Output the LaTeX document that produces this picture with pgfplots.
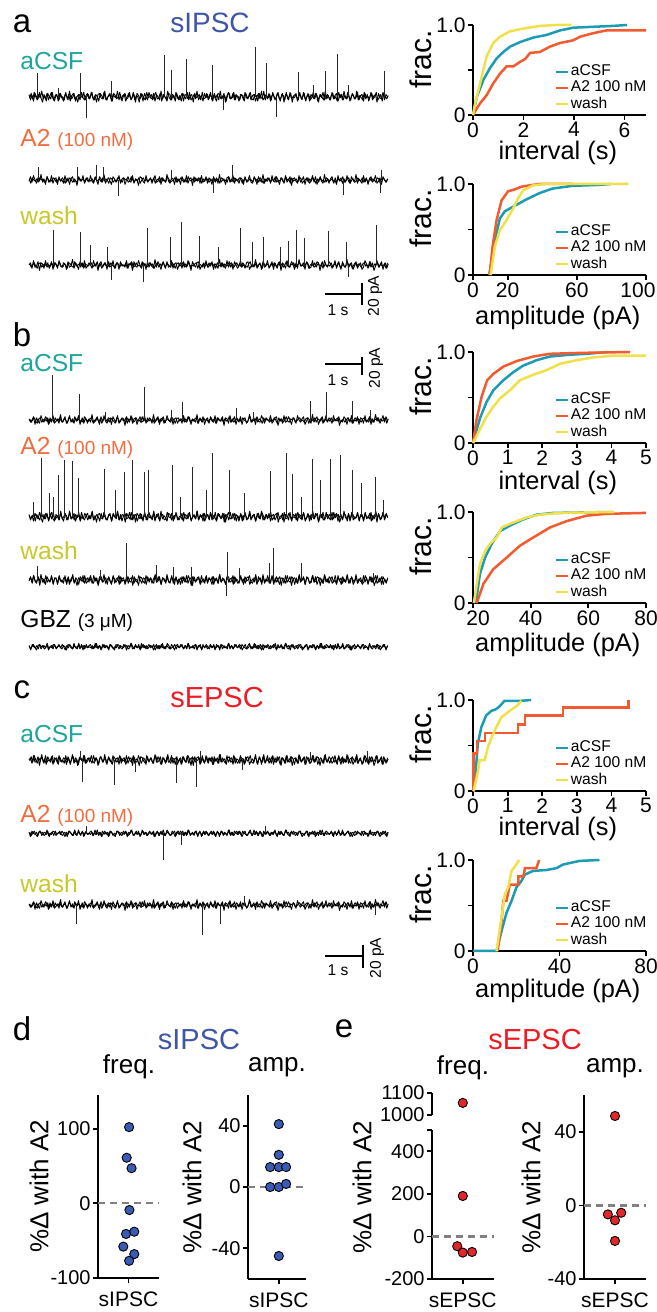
\documentclass[border=0pt]{standalone}
\usepackage{fontspec}
\setmainfont{Liberation Sans}
\usepackage{pgfplots}
\usepackage{pgfplotstable}
\pgfplotsset{compat=1.18}

\definecolor{cTeal}{RGB}{30,165,155}
\definecolor{cOrange}{RGB}{243,108,61}
\definecolor{cOlive}{RGB}{200,200,42}
\definecolor{cBlue}{RGB}{63,86,168}
\definecolor{cRed}{RGB}{236,28,36}
\definecolor{lAcsf}{RGB}{27,155,180}
\definecolor{lA2}{RGB}{242,90,47}
\definecolor{lWash}{RGB}{242,224,74}
\definecolor{dotBlue}{RGB}{58,91,180}
\definecolor{dotRed}{RGB}{227,38,42}

\newcommand{\fs}[1]{\fontsize{#1}{#1}\selectfont}

% recorded baseline noise, pA (one sample per 1.5 px)
\pgfplotstableread[row sep=\\]{v\\
2\\ -3\\ 1\\ -4\\ 3\\ 0\\ -2\\ 4\\ -1\\ -5\\ 2\\ -2\\ 3\\ -3\\ 1\\ 4\\ -2\\ -4\\ 2\\ 0\\
-3\\ 3\\ -1\\ -4\\ 2\\ 1\\ -3\\ 5\\ -2\\ -1\\ 3\\ -4\\ 0\\ 2\\ -3\\ 4\\ -1\\ -3\\ 1\\ 3\\
-2\\ 0\\ 4\\ -3\\ 1\\ -5\\ 2\\ 3\\ -1\\ -2\\ 4\\ -2\\ -3\\ 1\\ 3\\ -4\\ 2\\ 0\\ -1\\ 5\\
-3\\ 2\\ -4\\ 1\\ 3\\ -2\\ -1\\ 4\\ -3\\ 0\\ 2\\ -5\\ 3\\ 1\\ -2\\ 2\\ -4\\ 3\\ 0\\ -3\\
4\\ -1\\ -2\\ 3\\ -4\\ 2\\ 0\\ -3\\ 5\\ -2\\ 1\\ -1\\ -4\\ 3\\ 2\\ -3\\ 1\\ -2\\ 4\\ -1\\
-3\\ 0\\ 3\\ -4\\ 2\\ 1\\ -2\\ 4\\ -3\\ -1\\ 2\\ -2\\ 5\\ -3\\ 0\\ 1\\ -4\\ 3\\ -1\\ 2\\
-2\\ 4\\ -3\\ 1\\ -1\\ -4\\ 3\\ 2\\ -2\\ 0\\ 3\\ -5\\ 1\\ 4\\ -2\\ -1\\ 3\\ -3\\ 2\\ 0\\
-4\\ 2\\ 1\\ -3\\ 4\\ -1\\ -2\\ 3\\ -3\\ 1\\ 2\\ -4\\ 0\\ 3\\ -2\\ 5\\ -3\\ -1\\ 2\\ -2\\
3\\ -4\\ 1\\ 2\\ -3\\ 0\\ 4\\ -2\\ -1\\ 3\\ -5\\ 2\\ 1\\ -3\\ 4\\ -2\\ 0\\ -1\\ 3\\ -4\\
2\\ 1\\ -3\\ 4\\ -2\\ -1\\ 3\\ -4\\ 2\\ 0\\ -2\\ 3\\ 1\\ -5\\ 2\\ -1\\ 4\\ -3\\ 0\\ 2\\
-1\\ -3\\ 4\\ -2\\ 1\\ 3\\ -4\\ 0\\ 2\\ -3\\ 5\\ -1\\ -2\\ 3\\ -4\\ 1\\ 2\\ -2\\ -1\\ 4\\
-3\\ 1\\ 2\\ -4\\ 3\\ -1\\ 0\\ -2\\ 4\\ -3\\ 1\\ 2\\ -5\\ 3\\ -1\\ -2\\ 4\\ -3\\ 2\\ 0\\
}\noiseA
\pgfplotstableread[row sep=\\]{v\\
1\\ -2\\ 0\\ 2\\ -1\\ -3\\ 1\\ 2\\ -2\\ 0\\ 1\\ -1\\ 2\\ -3\\ 0\\ 1\\ -2\\ 2\\ -1\\ 0\\
2\\ -1\\ -2\\ 1\\ 0\\ -3\\ 2\\ 1\\ -1\\ -2\\ 3\\ -1\\ 0\\ 1\\ -2\\ 2\\ -3\\ 1\\ 0\\ -1\\
1\\ 2\\ -2\\ 0\\ -1\\ 3\\ -2\\ 1\\ -3\\ 0\\ 2\\ -1\\ 1\\ -2\\ 2\\ 0\\ -1\\ -3\\ 2\\ 1\\
-2\\ 1\\ 0\\ -1\\ 2\\ -3\\ 1\\ 0\\ 3\\ -2\\ -1\\ 2\\ -1\\ 0\\ -2\\ 3\\ -1\\ 1\\ -2\\ 0\\
2\\ -1\\ 1\\ -3\\ 0\\ 2\\ -2\\ 1\\ -1\\ 3\\ -2\\ 0\\ 1\\ -1\\ -2\\ 2\\ 0\\ -3\\ 1\\ 2\\
-1\\ 0\\ 2\\ -2\\ 1\\ -1\\ 3\\ -2\\ 0\\ -1\\ 1\\ 2\\ -3\\ 1\\ 0\\ -2\\ 2\\ -1\\ 1\\ -2\\
0\\ 2\\ -1\\ 1\\ -3\\ 2\\ 0\\ -1\\ 2\\ -2\\ 1\\ -1\\ 0\\ 3\\ -2\\ 1\\ -2\\ 0\\ 2\\ -1\\
1\\ -2\\ 2\\ 0\\ -1\\ -2\\ 1\\ 3\\ -2\\ 0\\ -1\\ 2\\ -2\\ 1\\ 0\\ -3\\ 2\\ -1\\ 1\\ 0\\
-2\\ 1\\ -1\\ 2\\ 0\\ -3\\ 2\\ -1\\ 1\\ -2\\ 0\\ 3\\ -1\\ -2\\ 1\\ 0\\ 2\\ -2\\ -1\\ 1\\
2\\ -1\\ 0\\ -2\\ 1\\ 2\\ -3\\ 0\\ 1\\ -1\\ 2\\ -2\\ 1\\ 0\\ -1\\ 3\\ -2\\ 1\\ -1\\ 0\\
-1\\ 2\\ -2\\ 1\\ 0\\ -1\\ 3\\ -2\\ -1\\ 1\\ -2\\ 0\\ 2\\ -1\\ 1\\ -3\\ 0\\ 2\\ -1\\ 1\\
0\\ -2\\ 1\\ 2\\ -1\\ 0\\ -2\\ 3\\ -1\\ -2\\ 1\\ 0\\ 2\\ -2\\ 1\\ -1\\ 0\\ 2\\ -3\\ 1\\
}\noiseB
\pgfplotstableread[row sep=\\]{v\\
-1\\ 3\\ -2\\ 4\\ 0\\ -3\\ 2\\ -1\\ 5\\ -2\\ 1\\ -4\\ 3\\ 0\\ -2\\ 4\\ -3\\ 1\\ 2\\ -4\\
3\\ -1\\ 0\\ -3\\ 4\\ -2\\ 2\\ -4\\ 1\\ 3\\ -2\\ 0\\ -5\\ 2\\ 1\\ -1\\ 4\\ -3\\ 0\\ 2\\
-2\\ 4\\ -1\\ -3\\ 2\\ 0\\ -4\\ 3\\ 1\\ -2\\ 5\\ -3\\ 0\\ 2\\ -1\\ -4\\ 3\\ 1\\ -2\\ 0\\
4\\ -3\\ 1\\ 2\\ -4\\ 0\\ 3\\ -1\\ -2\\ 4\\ -3\\ 1\\ 0\\ -5\\ 3\\ 2\\ -1\\ -3\\ 4\\ -1\\
0\\ 2\\ -3\\ 1\\ 4\\ -2\\ -1\\ 3\\ -4\\ 2\\ 0\\ -2\\ 5\\ -1\\ -3\\ 2\\ 1\\ -4\\ 3\\ -2\\
1\\ -4\\ 3\\ 0\\ -2\\ 4\\ -3\\ 1\\ 2\\ -5\\ 3\\ -1\\ 0\\ 2\\ -3\\ 4\\ -2\\ -1\\ 3\\ -3\\
2\\ 0\\ -4\\ 3\\ -1\\ 2\\ -3\\ 5\\ -2\\ 0\\ 1\\ -4\\ 2\\ 3\\ -2\\ -1\\ 4\\ -3\\ 1\\ 0\\
-3\\ 2\\ 1\\ -4\\ 3\\ -1\\ 0\\ 4\\ -2\\ -3\\ 2\\ 1\\ -4\\ 3\\ 0\\ -2\\ 5\\ -3\\ 1\\ -1\\
2\\ -3\\ 4\\ -1\\ -2\\ 3\\ 0\\ -4\\ 2\\ 1\\ -3\\ 4\\ -2\\ 0\\ 3\\ -5\\ 1\\ 2\\ -1\\ -3\\
4\\ -2\\ 0\\ 3\\ -4\\ 1\\ 2\\ -3\\ -1\\ 4\\ -2\\ 3\\ -4\\ 0\\ 2\\ -1\\ -3\\ 5\\ -2\\ 1\\
-3\\ 1\\ 3\\ -2\\ 0\\ -4\\ 4\\ -1\\ 2\\ -3\\ 1\\ -2\\ 4\\ -1\\ -3\\ 3\\ 0\\ -2\\ 5\\ -3\\
1\\ -1\\ -3\\ 4\\ -2\\ 2\\ -4\\ 1\\ 3\\ -2\\ 0\\ 4\\ -3\\ -1\\ 2\\ -4\\ 3\\ 0\\ -2\\ 1\\
}\noiseC

\pgfplotsset{
  trace/.style={hide axis, x=0.5pt, y=0.55pt, xmin=29, xmax=388, ymin=-30, ymax=70,
    clip=false, anchor=south west},
  tr/.style={black, line width=0.45pt, line join=round, mark=none},
  sp/.style={black!85, line width=0.45pt, ycomb, mark=none},
  cdf/.style={scale only axis, width=86.5pt, height=45.5pt, anchor=south west,
    axis x line*=bottom, axis y line*=left, axis line style={line width=0.9pt,-},
    tick align=outside, major tick length=2.5pt, tick style={line width=0.9pt,black},
    ymin=0, ymax=1, ytick={0,0.5,1}, yticklabels={0,,1.0},
    ticklabel style={font=\fs{10.5}, inner sep=1pt},
    ylabel={frac.},
    ylabel style={font=\fs{15}, at={(axis description cs:-0.3,0.62)}, anchor=center},
    xlabel style={font=\fs{12.7}, at={(axis description cs:0.49,0)}, anchor=base},
    legend style={at={(0.47,0.02)}, anchor=south west, draw=none, fill=none,
      font=\fs{7.8}, inner sep=0pt, row sep=-0.6pt, nodes={inner sep=0.8pt}},
    legend cell align=left,
    legend image code/.code={\draw[##1, line width=1.3pt] (0pt,0pt) -- (6pt,0pt);},
    every axis plot/.append style={line width=1.25pt, mark=none},
    clip=false},
  sc/.style={scale only axis, anchor=south west,
    axis x line*=bottom, axis y line*=left, axis line style={line width=0.9pt,-},
    tick align=outside, major tick length=2.5pt, tick style={line width=0.9pt,black},
    xtick={1}, clip=false,
    ticklabel style={font=\fs{10}, inner sep=1pt},
    xticklabel style={font=\fs{10.5}, yshift=-3pt},
    ylabel={\%Δ with A2}, ylabel style={font=\fs{13}, anchor=center}},
  zl/.style={gray, line width=1.1pt, dash pattern=on 3.5pt off 2.5pt, mark=none},
  dotB/.style={only marks, mark=*, mark size=2.3pt,
    mark options={fill=dotBlue, draw=black, line width=0.45pt}},
  dotR/.style={only marks, mark=*, mark size=2.3pt,
    mark options={fill=dotRed, draw=black, line width=0.45pt}},
}

\begin{document}
\begin{tikzpicture}
\path[use as bounding box] (0,0) rectangle (328.5pt,656pt);

% ---------- panel letters and titles ----------
\node[font=\fs{16.5}] at (11pt,644.25pt) {a};
\node[font=\fs{16.5}] at (11pt,488.5pt) {b};
\node[font=\fs{16.5}] at (11pt,311pt) {c};
\node[font=\fs{16.5}] at (11pt,141.5pt) {d};
\node[font=\fs{16.5}] at (172pt,141.5pt) {e};
\node[font=\fs{14}, text=cBlue] at (105pt,644.5pt) {sIPSC};
\node[font=\fs{14.5}, text=cRed] at (108.5pt,307pt) {sEPSC};
\node[font=\fs{14.5}, text=cBlue] at (99.5pt,136pt) {sIPSC};
\node[font=\fs{14.5}, text=cRed] at (267.5pt,136pt) {sEPSC};

% ---------- trace labels ----------
\begin{scope}[every node/.style={anchor=base west, inner sep=0pt, font=\fs{12.3}}]
\node[text=cTeal] at (10pt,621pt) {aCSF};
\node[text=cOrange] at (10pt,582.5pt) {A2 {\fs{9.5}(100 nM)}};
\node[text=cOlive] at (10pt,543.5pt) {wash};
\node[text=cTeal] at (10pt,470pt) {aCSF};
\node[text=cOrange] at (10pt,428.5pt) {A2 {\fs{9.5}(100 nM)}};
\node[text=cOlive] at (10pt,376pt) {wash};
\node at (10pt,342pt) {GBZ {\fs{9.5}(3 μM)}};
\node[text=cTeal] at (10pt,284.5pt) {aCSF};
\node[text=cOrange] at (10pt,244.5pt) {A2 {\fs{9.5}(100 nM)}};
\node[text=cOlive] at (10pt,209.5pt) {wash};
\end{scope}

% ---------- panel a traces ----------
\begin{axis}[trace, at={(14.5pt,591.15pt)}]
\addplot[tr] table[x expr=29+1.5*\coordindex, y index=0] {\noiseA};
\addplot[tr] table[x expr=29.75+1.5*\coordindex, y index=0] {\noiseC};
\addplot[sp] coordinates {(37.7,21.8)(58.3,7.6)(80,21.8)(111,14.2)(164.3,37.9)(171.7,24.2)
  (186,33.9)(212.7,28.8)(255,45.5)(266.7,30.9)(298.3,22.7)(313,10.6)(325,23.6)(337.7,38.5)
  (348,10.6)(384,23.3)(86,-19.7)(276.7,-18.2)(223.3,-12.1)};
\end{axis}
\begin{axis}[trace, at={(14.5pt,549.5pt)}]
\addplot[tr] table[x expr=29+1.5*\coordindex, y index=0] {\noiseC};
\addplot[tr] table[x expr=387.75-1.5*\coordindex, y index=0] {\noiseB};
\addplot[sp] coordinates {(38,12)(77,12)(96.7,13.6)(103,12)(171.7,9)(232,13.6)(381.7,9)
  (118,-15)(213,-11.5)(343,-13.6)(380,-11.5)};
\end{axis}
\begin{axis}[trace, at={(14.5pt,507pt)}]
\addplot[tr] table[x expr=387.5-1.5*\coordindex, y index=0] {\noiseA};
\addplot[tr] table[x expr=29.75+1.5*\coordindex, y index=0] {\noiseB};
\addplot[sp] coordinates {(53.3,31.8)(80.7,29.7)(90,18.2)(107.3,16.7)(147.7,33.3)(170,25.2)
  (181,39.4)(199.3,26.1)(218.3,16.7)(240,33.3)(252.3,21.2)(263.3,25.2)(280,16.7)(288.3,21.8)
  (296,31.8)(304,24.2)(328.3,30.9)(346.7,21.2)(376.7,36.4)(111.7,-13.6)(143.3,-15.2)(348.3,-10.6)};
\end{axis}

% ---------- panel b traces ----------
\begin{axis}[trace, at={(14.5pt,429.5pt)}]
\addplot[tr] table[x expr=387.5-1.5*\coordindex, y index=0] {\noiseC};
\addplot[tr] table[x expr=29.75+1.5*\coordindex, y index=0] {\noiseB};
\addplot[sp] coordinates {(52.7,40.9)(79.3,23.6)(144,29.7)(182.7,16.7)(236.7,10.6)(310,17.6)
  (326.7,25.5)(352.3,17.6)(370,9.1)(105,7.6)(171.7,9.1)(253.3,7.6)};
\end{axis}
\begin{axis}[trace, at={(14.5pt,381.15pt)}]
\addplot[tr] table[x expr=29+1.5*\coordindex, y index=0] {\noiseA};
\addplot[tr] table[x expr=387.75-1.5*\coordindex, y index=0] {\noiseC};
\addplot[sp] coordinates {(33.3,13.6)(41.7,53)(49.3,21.2)(53.3,18.2)(58.3,37.9)(64,51.5)
  (72.7,50.9)(78.7,34.8)(104,43.3)(115,24.2)(124,40.3)(132.7,51.5)(144.3,40.3)(148.3,42.4)
  (172.7,47)(180,18.2)(192.3,45.5)(206,24.2)(212.3,58.2)(229,42.4)(244,21.2)(270.7,41.2)
  (286,58.2)(292.3,38.8)(301.7,18.2)(312.3,52.1)(320.7,33.3)(330.7,52.7)(340.7,55.8)
  (352.7,42.4)(361.7,30.3)(375.7,36.4)(383.3,15.2)};
\end{axis}
\begin{axis}[trace, at={(14.5pt,349.5pt)}]
\addplot[tr] table[x expr=29+1.5*\coordindex, y index=0] {\noiseC};
\addplot[tr] table[x expr=387.75-1.5*\coordindex, y index=0] {\noiseA};
\addplot[sp] coordinates {(37.3,12.7)(100,9.1)(126.7,33.3)(156.7,13.6)(173.3,12.1)(191.7,12.1)
  (227.7,25.8)(239.3,10.6)(269.3,15.2)(273.3,28.8)(301,15.2)(373.3,6)(226.7,-15)};
\end{axis}
\begin{axis}[trace, at={(14.5pt,316.15pt)}]
\addplot[tr] table[x expr=29+1.5*\coordindex, y index=0] {\noiseB};
\addplot[tr] table[x expr=387.75-1.5*\coordindex, y index=0] {\noiseB};
\end{axis}

% ---------- panel c traces ----------
\begin{axis}[trace, at={(14.5pt,259.5pt)}]
\addplot[tr] table[x expr=387.5-1.5*\coordindex, y index=0] {\noiseA};
\addplot[tr] table[x expr=29.75+1.5*\coordindex, y index=0] {\noiseC};
\addplot[sp] coordinates {(82.7,-19.7)(114.3,-22.7)(135,-10.6)(176,-21.2)(196.7,-24.2)
  (242.7,-9)(80,8)(200,8)(310,7)(367,8)};
\end{axis}
\begin{axis}[trace, at={(14.5pt,222.85pt)}]
\addplot[tr] table[x expr=387.5-1.5*\coordindex, y index=0] {\noiseB};
\addplot[tr] table[x expr=29.75+1.5*\coordindex, y index=0] {\noiseB};
\addplot[sp] coordinates {(163.3,-24.2)(181,-10.6)(86,7)(265,7)};
\end{axis}
\begin{axis}[trace, at={(14.5pt,187pt)}]
\addplot[tr] table[x expr=387.5-1.5*\coordindex, y index=0] {\noiseC};
\addplot[tr] table[x expr=29.75+1.5*\coordindex, y index=0] {\noiseB};
\addplot[sp] coordinates {(76,-17.3)(202.7,-27.3)(220,-17.3)(375,-9)(244,8)};
\end{axis}

% ---------- scale bars ----------
\begin{scope}[line width=0.7pt]
\draw (162.5pt,509pt) -- (181pt,509pt);
\draw (181pt,514.5pt) -- (181pt,503.5pt);
\node[font=\fs{7.8}] at (169pt,501pt) {1 s};
\node[font=\fs{7.8}, rotate=90] at (187.5pt,508pt) {20 pA};
\draw (162.5pt,474pt) -- (181pt,474pt);
\draw (181pt,477.7pt) -- (181pt,468.5pt);
\node[font=\fs{7.8}] at (169pt,466pt) {1 s};
\node[font=\fs{7.8}, rotate=90] at (188pt,472pt) {20 pA};
\draw (162.5pt,178pt) -- (181.5pt,178pt);
\draw (181.5pt,183.5pt) -- (181.5pt,172pt);
\node[font=\fs{7.8}] at (169pt,171pt) {1 s};
\node[font=\fs{7.8}, rotate=90] at (188.5pt,177pt) {20 pA};
\end{scope}

% ---------- cumulative plots ----------
\begin{axis}[cdf, at={(236.5pt,598.5pt)}, height=45pt, xmin=0, xmax=6.85,
  xtick={0,2,4,6}, xticklabels={0,2,4,6}, xlabel={interval (s)}, xlabel style={yshift=-22.3pt}]
\addplot[lAcsf] coordinates {(0,0)(0.15,0.2)(0.41,0.39)(0.67,0.52)(0.94,0.63)(1.2,0.7)(1.47,0.76)
  (1.86,0.81)(2.39,0.86)(2.92,0.89)(3.45,0.94)(3.97,0.97)(4.77,0.98)(5.56,0.99)(6.1,1.0)};
\addlegendentry{aCSF}
\addplot[lA2] coordinates {(0,0)(0.1,0.05)(0.28,0.13)(0.54,0.22)(0.8,0.35)(1.07,0.46)(1.33,0.54)
  (1.6,0.54)(1.86,0.59)(2.06,0.62)(2.26,0.69)(2.65,0.7)(3.05,0.76)(3.45,0.8)(3.97,0.83)
  (4.24,0.87)(4.77,0.91)(5.3,0.94)(6.85,0.94)};
\addlegendentry{A2 100 nM}
\addplot[lWash] coordinates {(0,0)(0.1,0.15)(0.28,0.35)(0.54,0.65)(0.8,0.8)(1.07,0.87)(1.47,0.93)
  (2.0,0.96)(2.65,0.99)(3.3,1.0)(3.9,1.0)};
\addlegendentry{wash}
\end{axis}

\begin{axis}[cdf, at={(236.5pt,518.5pt)}, xmin=0, xmax=100,
  xtick={0,20,60,100}, xticklabels={0,20,60,\hspace*{-8pt}100}, xlabel={amplitude (pA)},
  xlabel style={yshift=-25pt}]
\addplot[lAcsf] coordinates {(9.4,0)(11.7,0.24)(13.6,0.46)(15.5,0.62)(18.4,0.7)(23.2,0.75)
  (30.8,0.83)(38.5,0.9)(46,0.95)(57.7,0.98)(73,0.99)(79.7,1.0)};
\addlegendentry{aCSF}
\addplot[lA2] coordinates {(9.6,0)(11.3,0.31)(13.6,0.6)(16.5,0.82)(20.3,0.92)(24,0.94)(28,0.97)
  (32.8,0.985)(38.5,1.0)(58,1.0)};
\addlegendentry{A2 100 nM}
\addplot[lWash] coordinates {(10.2,0)(12.6,0.31)(15.5,0.49)(19.3,0.6)(23.2,0.73)(26,0.84)
  (28.9,0.93)(34.7,0.985)(42,1.0)(90,1.0)};
\addlegendentry{wash}
\end{axis}

\begin{axis}[cdf, at={(236.5pt,434.5pt)}, xmin=0, xmax=5,
  xtick={0,1,2,3,4,5}, xticklabels={0,1,2,3,4,5}, xlabel={interval (s)}, xlabel style={yshift=-23.5pt}]
\addplot[lAcsf] coordinates {(0,0)(0.2,0.27)(0.39,0.45)(0.59,0.58)(0.88,0.69)(1.17,0.78)
  (1.45,0.85)(1.84,0.91)(2.22,0.95)(2.8,0.97)(3.29,0.98)(3.91,1.0)};
\addlegendentry{aCSF}
\addplot[lA2] coordinates {(0,0)(0.1,0.25)(0.25,0.51)(0.41,0.69)(0.59,0.76)(0.88,0.84)(1.26,0.9)
  (1.74,0.95)(2.22,0.98)(3.09,0.99)(4.54,1.0)};
\addlegendentry{A2 100 nM}
\addplot[lWash] coordinates {(0,0)(0.2,0.15)(0.39,0.29)(0.59,0.4)(0.78,0.49)(1.07,0.58)
  (1.36,0.69)(1.74,0.75)(2.13,0.8)(2.51,0.87)(3.0,0.91)(3.48,0.94)(4.06,0.96)(5.0,0.96)};
\addlegendentry{wash}
\end{axis}

\begin{axis}[cdf, at={(236.5pt,354.5pt)}, xmin=20, xmax=80,
  xtick={20,40,60,80}, xticklabels={\hspace*{5pt}20,40,60,80}, xlabel={amplitude (pA)},
  xlabel style={yshift=-24.3pt}]
\addplot[lAcsf] coordinates {(21,0)(22.4,0.32)(24.2,0.5)(26.5,0.65)(29.4,0.79)(32.8,0.85)
  (37.5,0.92)(42,0.97)(47.9,0.99)(68,1.0)};
\addlegendentry{aCSF}
\addplot[lA2] coordinates {(21.3,0)(23.6,0.21)(27,0.37)(31.7,0.5)(36.3,0.63)(40.9,0.72)
  (46.7,0.83)(52.5,0.9)(59.4,0.96)(66.4,0.98)(80,0.99)};
\addlegendentry{A2 100 nM}
\addplot[lWash] coordinates {(20.3,0)(22.4,0.43)(24.2,0.57)(25.9,0.65)(28.2,0.72)(30,0.83)
  (32.8,0.87)(38.6,0.94)(43.2,0.97)(50.2,0.99)(69,1.0)};
\addlegendentry{wash}
\end{axis}

\begin{axis}[cdf, at={(236.5pt,260.5pt)}, xmin=0, xmax=5,
  xtick={0,1,2,3,4,5}, xticklabels={0,1,2,3,4,5}, xlabel={interval (s)}, xlabel style={yshift=-22.5pt}]
\addplot[lAcsf] coordinates {(0,0)(0.08,0.23)(0.14,0.52)(0.24,0.7)(0.38,0.83)(0.53,0.88)
  (0.67,0.9)(0.77,0.93)(0.91,0.99)(1.35,0.99)(1.68,1.0)};
\addlegendentry{aCSF}
\addplot[lA2, const plot] coordinates {(0,0)(0.02,0.41)(0.12,0.55)(0.34,0.64)(1.3,0.73)
  (1.5,0.83)(2.6,0.92)(4.5,1.0)};
\addlegendentry{A2 100 nM}
\addplot[lWash] coordinates {(0.02,0)(0.15,0.23)(0.19,0.34)(0.34,0.34)(0.43,0.48)(0.54,0.59)
  (0.67,0.7)(0.82,0.81)(1.06,0.88)(1.25,0.93)(1.4,0.99)};
\addlegendentry{wash}
\end{axis}

\begin{axis}[cdf, at={(236.5pt,180.5pt)}, xmin=0, xmax=80,
  xtick={0,40,80}, xticklabels={0,40,80}, xlabel={amplitude (pA)}, xlabel style={yshift=-23.3pt}]
\addplot[lAcsf] coordinates {(0,0)(10.9,0)(13.2,0.22)(15.5,0.42)(17.8,0.55)(20.1,0.7)(22.4,0.77)
  (24,0.84)(27.8,0.88)(33.9,0.89)(38.6,0.91)(41.6,0.95)(49.3,0.99)(58.5,1.0)};
\addlegendentry{aCSF}
\addplot[lA2] coordinates {(11.4,0)(13.2,0.33)(14,0.55)(15.5,0.55)(17,0.73)(20.9,0.73)(21,0.82)
  (23.3,0.82)(24,0.91)(29.3,0.91)(30.6,1.0)};
\addlegendentry{A2 100 nM}
\addplot[lWash] coordinates {(10.9,0)(13.2,0.37)(14.7,0.62)(16.3,0.7)(17.8,0.88)(19.4,0.93)(21.4,1.0)};
\addlegendentry{wash}
\end{axis}

% ---------- panel d ----------
\node[font=\fs{13}] at (64.5pt,122.5pt) {freq.};
\node[font=\fs{13}] at (138.5pt,122.5pt) {amp.};
\begin{axis}[sc, at={(49pt,17pt)}, width=30.5pt, height=91.5pt, xmin=0, xmax=2,
  ymin=-100, ymax=145, ytick={-100,0,100}, yticklabels={-100,0,100}, xticklabels={sIPSC},
  ylabel style={at={(axis description cs:-0.967,0.5)}}]
\addplot[zl] coordinates {(0,0)(2,0)};
\addplot[dotB] coordinates {(1.02,102)(0.94,61)(1.10,47)(1.03,-9)(0.92,-41)(1.19,-38)
  (0.83,-58)(1.19,-68)(1.02,-77)};
\end{axis}
\begin{axis}[sc, at={(124pt,16.5pt)}, width=29pt, height=92pt, xmin=-0.063, xmax=1.937,
  ymin=-60, ymax=60, ytick={-40,0,40}, yticklabels={-40,0,40}, xticklabels={sIPSC},
  ylabel style={at={(axis description cs:-0.965,0.5)}}]
\addplot[zl] coordinates {(-0.063,0)(1.937,0)};
\addplot[dotB] coordinates {(1,41)(1,21)(0.70,13)(1,13)(1.25,13)(0.70,0)(1,0)(1.25,2)(1,-45)};
\end{axis}

% ---------- panel e ----------
\node[font=\fs{13}] at (231.5pt,122pt) {freq.};
\node[font=\fs{13}] at (307.5pt,122pt) {amp.};
\begin{axis}[sc, at={(216pt,98.5pt)}, width=30.8pt, height=11pt, xmin=0, xmax=2,
  ymin=1000, ymax=1100, ytick={1000,1100}, yticklabels={1000,1100},
  axis x line=none, xtick=\empty, ylabel={}]
\addplot[dotR] coordinates {(1,1055)};
\end{axis}
\begin{axis}[sc, at={(216pt,16.5pt)}, width=30.8pt, height=74.5pt, xmin=0, xmax=2,
  ymin=-200, ymax=500, ytick={-200,0,200,400,500}, yticklabels={-200,0,200,400,{}},
  xticklabels={sEPSC}, ylabel style={at={(axis description cs:-1.135,0.617)}}]
\addplot[zl] coordinates {(0,0)(2,0)};
\addplot[dotR] coordinates {(1,190)(0.82,-46)(1,-76)(1.30,-73)};
\end{axis}
\begin{axis}[sc, at={(292pt,16.5pt)}, width=31pt, height=92pt, xmin=0, xmax=2,
  ymin=-40, ymax=60, ytick={-40,0,40}, yticklabels={-40,0,40}, xticklabels={sEPSC},
  ylabel style={at={(axis description cs:-0.855,0.5)}}]
\addplot[zl] coordinates {(0,0)(2,0)};
\addplot[dotR] coordinates {(1,48.6)(0.77,-4.9)(1,-8.1)(1.2,-4)(1,-19.3)};
\end{axis}

\end{tikzpicture}
\end{document}
